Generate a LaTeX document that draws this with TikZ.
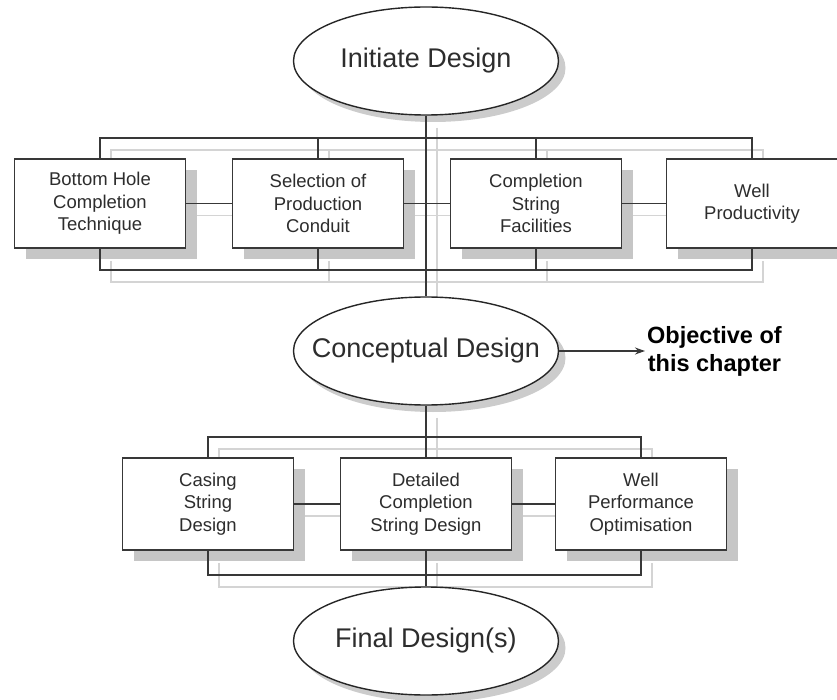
\documentclass[tikz,border=0pt]{standalone}
\usepackage{fontspec}
\setmainfont{Liberation Sans}
\usetikzlibrary{arrows.meta,shapes.geometric,shadows}
\definecolor{wdline}{RGB}{56,56,56}
\definecolor{wdtext}{RGB}{45,45,45}
\definecolor{wdshade}{RGB}{198,198,198}
\definecolor{wdghost}{RGB}{212,212,212}
\pgfdeclarelayer{ghost}
\pgfsetlayers{ghost,main}
\def\wdWires{%
  \draw[wdwire] (init) -- (concept);
  \draw[wdwire] (bh.north) |- (topbar -| wp.north) -- (wp.north);
  \draw[wdwire] (sp.north) -- (sp.north |- topbar);
  \draw[wdwire] (cs.north) -- (cs.north |- topbar);
  \draw[wdwire] (bh.south) |- (topfoot -| wp.south) -- (wp.south);
  \draw[wdwire] (sp.south) -- (sp.south |- topfoot);
  \draw[wdwire] (cs.south) -- (cs.south |- topfoot);
  \draw[wdwire] (bh) -- (sp);
  \draw[wdwire] (sp) -- (cs);
  \draw[wdwire] (cs) -- (wp);
  \draw[wdwire] (concept) -- (dcs);
  \draw[wdwire] (dcs) -- (final);
  \draw[wdwire] (csd.north) |- (lowbar -| wpo.north) -- (wpo.north);
  \draw[wdwire] (csd.south) |- (lowfoot -| wpo.south) -- (wpo.south);
  \draw[wdwire] (csd) -- (dcs);
  \draw[wdwire] (dcs) -- (wpo);}

\begin{document}
\begin{tikzpicture}[
    x=1pt, y=-1pt,
    wdwire/.style = {draw=wdline, line width=1.3pt},
    wdbox/.style  = {draw=wdline, fill=white, line width=1.6pt,
                     minimum width=171pt, minimum height=89pt, inner sep=2pt,
                     align=center, text=wdtext,
                     font=\fontsize{18.5}{22.5}\selectfont,
                     drop shadow={shadow xshift=11pt, shadow yshift=-11pt,
                                  fill=wdshade, opacity=1}},
    wdoval/.style = {ellipse, draw=black!85, fill=white, line width=1.4pt,
                     minimum width=265pt, minimum height=108pt,
                     inner xsep=-22pt, inner ysep=0pt,
                     text=wdtext, font=\fontsize{27}{32}\selectfont,
                     drop shadow={shadow xshift=7pt, shadow yshift=-7pt,
                                  fill=black!20, opacity=1}},
    wdnote/.style = {align=center, text=black, inner sep=2pt,
                     font=\fontsize{23.5}{28}\selectfont\bfseries}]

  \useasboundingbox (0,0) rectangle (837,700);

  %% ---- bracket levels ----------------------------------------------
  \coordinate (topbar)  at (0,138);
  \coordinate (topfoot) at (0,270);
  \coordinate (lowbar)  at (0,437);
  \coordinate (lowfoot) at (0,575);

  %% ---- stages ------------------------------------------------------
  \node[wdoval] (init)    at (426,61)  {Initiate Design};
  \node[wdoval] (concept) at (426,351) {Conceptual Design};
  \node[wdoval] (final)   at (426,641) {Final Design(s)};

  %% ---- conceptual inputs -------------------------------------------
  \node[wdbox] (bh) at (100,203.5) {Bottom Hole\\Completion\\Technique};
  \node[wdbox] (sp) at (318,203.5) {Selection of\\Production\\Conduit};
  \node[wdbox] (cs) at (536,203.5) {Completion\\String\\Facilities};
  \node[wdbox] (wp) at (752,203.5) {Well\\Productivity};

  %% ---- detailed design ---------------------------------------------
  \node[wdbox, minimum height=92pt] (csd) at (208,504) {Casing\\String\\Design};
  \node[wdbox, minimum height=92pt] (dcs) at (426,504) {Detailed\\Completion\\String Design};
  \node[wdbox, minimum height=92pt] (wpo) at (641,504) {Well\\Performance\\Optimisation};

  \node[wdnote, anchor=west] (goal) at (645,351) {Objective of\\this chapter};

  %% ---- connectors, with their faint offset copy behind -------------
  \begin{pgfonlayer}{ghost}
    \begin{scope}[transform canvas={shift={(11,12)}},
                  wdwire/.append style={draw=wdghost}]
      \wdWires
    \end{scope}
  \end{pgfonlayer}
  \wdWires
  \draw[wdwire, -{Stealth[length=10pt,width=7pt]}] (concept.east) -- (goal.west);
\end{tikzpicture}
\end{document}
